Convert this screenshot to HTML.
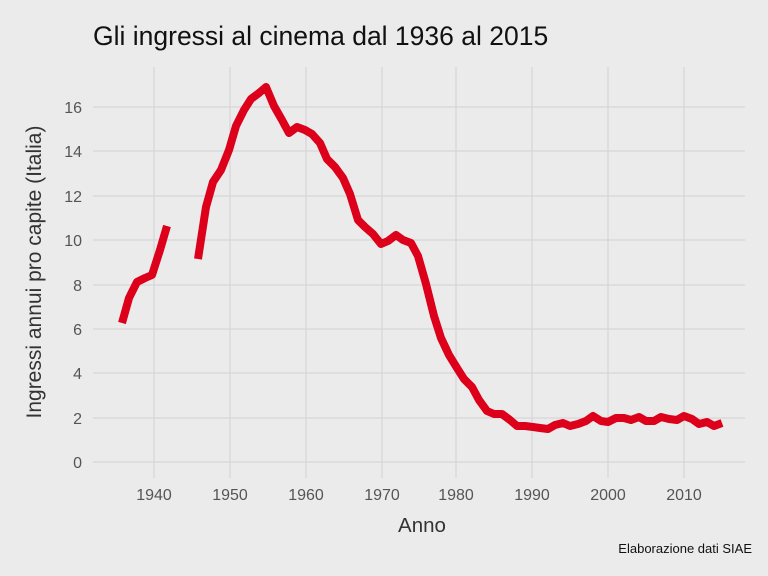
<!DOCTYPE html>
<html><head><meta charset="utf-8"><style>
body{margin:0;background:#ebebeb;}
svg{display:block;font-family:"Liberation Sans",sans-serif;}
</style></head><body>
<svg width="768" height="576" xmlns="http://www.w3.org/2000/svg">
<rect width="768" height="576" fill="#ebebeb"/>
<g stroke="#d6d6d6" stroke-width="1.3">
<line x1="93" x2="745" y1="462" y2="462"/><line x1="93" x2="745" y1="418" y2="418"/>
<line x1="93" x2="745" y1="373" y2="373"/><line x1="93" x2="745" y1="329" y2="329"/>
<line x1="93" x2="745" y1="285" y2="285"/><line x1="93" x2="745" y1="240" y2="240"/>
<line x1="93" x2="745" y1="196" y2="196"/><line x1="93" x2="745" y1="151" y2="151"/>
<line x1="93" x2="745" y1="107" y2="107"/>
<line x1="154" x2="154" y1="67" y2="478"/><line x1="230" x2="230" y1="67" y2="478"/>
<line x1="306" x2="306" y1="67" y2="478"/><line x1="382" x2="382" y1="67" y2="478"/>
<line x1="456" x2="456" y1="67" y2="478"/><line x1="532" x2="532" y1="67" y2="478"/>
<line x1="608" x2="608" y1="67" y2="478"/><line x1="684" x2="684" y1="67" y2="478"/>
</g>
<g fill="none" stroke="#dc001a" stroke-width="8" stroke-linejoin="round">
<polyline points="122,323 129,298 137,282 145,278 152,275 160,250 167,226"/>
<polyline points="198,259 206,207 213,182 221,170 229,150 236,126 244,110 251,99 259,93 266,87 274,106 282,120 289,133 297,127 305,130 312,134 320,143 327,159 335,167 343,178 350,194 358,220 365,227 373,234 381,244 388,241 396,235 403,240 411,243 418,256 426,284 434,316 441,338 449,355 457,368 464,379 472,387 479,400 487,411 494,414 502,414 510,420 517,426 525,426 533,427 540,428 548,429 555,425 563,423 570,426 578,424 586,421 593,416 601,421 608,422 616,418 624,418 631,420 639,417 646,421 654,421 661,417 669,419 677,420 684,416 692,419 699,424 707,422 714,426 722,423"/>
</g>
<g fill="#555" font-size="16" text-anchor="end">
<text x="82" y="468">0</text><text x="82" y="424">2</text><text x="82" y="379">4</text>
<text x="82" y="335">6</text><text x="82" y="291">8</text><text x="82" y="246">10</text>
<text x="82" y="202">12</text><text x="82" y="157">14</text><text x="82" y="113">16</text>
</g>
<g fill="#555" font-size="16" text-anchor="middle">
<text x="154" y="500">1940</text><text x="230" y="500">1950</text><text x="306" y="500">1960</text>
<text x="382" y="500">1970</text><text x="456" y="500">1980</text><text x="532" y="500">1990</text>
<text x="608" y="500">2000</text><text x="684" y="500">2010</text>
</g>
<text x="422" y="532" font-size="20.5" fill="#333" text-anchor="middle">Anno</text>
<text transform="translate(41,272) rotate(-90)" font-size="21" fill="#333" text-anchor="middle">Ingressi annui pro capite (Italia)</text>
<text x="93" y="45" font-size="26.5" fill="#111">Gli ingressi al cinema dal 1936 al 2015</text>
<text x="752" y="553" font-size="13" fill="#111" text-anchor="end">Elaborazione dati SIAE</text>
</svg>
</body></html>
